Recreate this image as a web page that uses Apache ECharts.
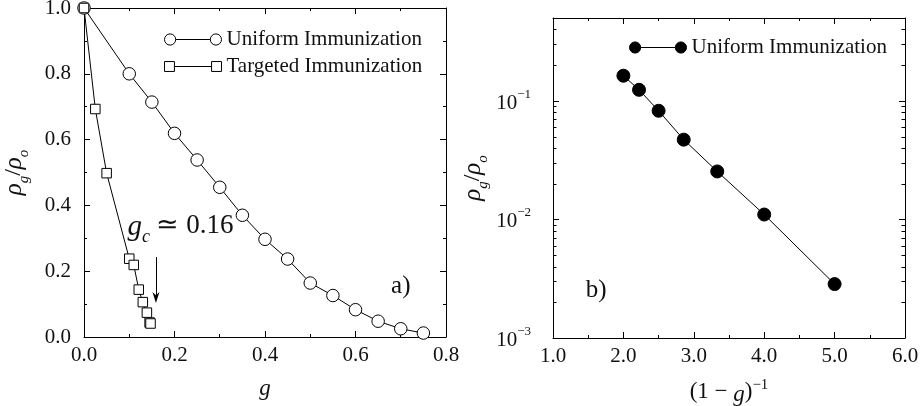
<!DOCTYPE html>
<html><head><meta charset="utf-8">
<script src="https://cdn.jsdelivr.net/npm/echarts@6/dist/echarts.min.js"></script>
<style>html,body{margin:0;padding:0;background:#fff}#c{width:924px;height:406px}</style>
</head><body><div id="c"></div>
<script>
// ---- data ----
const uniformG   = [0, 0.10, 0.15, 0.20, 0.25, 0.30, 0.35, 0.40, 0.45, 0.50, 0.55, 0.60, 0.65, 0.70, 0.75];
const uniformRho = [1.0, 0.800, 0.714, 0.619, 0.538, 0.455, 0.370, 0.297, 0.237, 0.164, 0.126, 0.083, 0.048, 0.025, 0.012];
const targetedG   = [0, 0.025, 0.050, 0.100, 0.110, 0.121, 0.130, 0.139, 0.145, 0.147];
const targetedRho = [1.0, 0.693, 0.498, 0.238, 0.219, 0.144, 0.106, 0.074, 0.044, 0.041];
const invG   = [2.0, 2.222, 2.5, 2.857, 3.333, 4.0, 5.0];
const invRho = [0.163, 0.124, 0.0825, 0.0471, 0.0254, 0.0110, 0.00285];
const gcArrow = [[0.159, 0.243], [0.159, 0.120]];
const gcLabelPos = [0.213, 0.326];
const aLabelPos = [0.70, 0.153];
const bLabelPos = [1.614, 0.00253];
const leftXRange = [0, 0.8], leftYRange = [0, 1];
const rightXRange = [1, 6], rightYRange = [0.001, 0.5];
const logMinorTicks = [0.002,0.003,0.004,0.005,0.006,0.007,0.008,0.009,
                       0.02,0.03,0.04,0.05,0.06,0.07,0.08,0.09,
                       0.2,0.3,0.4];

const FF = '"Liberation Serif", "Times New Roman", Times, serif';
const TXT = '#111';
const zip = (a, b) => a.map((v, i) => [v, b[i]]);

function linAxis(gridIndex, pos, range, interval, showLabel, extra) {
  return Object.assign({
    type: 'value', gridIndex, position: pos, min: range[0], max: range[1], interval,
    axisLine: { show: true, onZero: false, lineStyle: { color: '#000', width: 1 } },
    axisTick: { show: true, inside: true, length: 6, lineStyle: { color: '#000' } },
    minorTick: { show: true, splitNumber: 2, length: 3, lineStyle: { color: '#000' } },
    splitLine: { show: false }, minorSplitLine: { show: false },
    axisLabel: { show: showLabel, fontFamily: FF, fontSize: 21, color: TXT,
      formatter: v => v.toFixed(1) }
  }, extra || {});
}
function logAxis(pos, showLabel, extra) {
  return Object.assign({
    type: 'log', logBase: 10, gridIndex: 1, position: pos, min: rightYRange[0], max: rightYRange[1],
    axisLine: { show: true, onZero: false, lineStyle: { color: '#000', width: 1 } },
    axisTick: { show: true, inside: true, length: 6, lineStyle: { color: '#000' } },
    minorTick: { show: false }, splitLine: { show: false },
    axisLabel: { show: showLabel, fontFamily: FF, fontSize: 21, color: TXT, margin: 22,
      formatter: v => {
        const e = Math.log10(v), r = Math.round(e);
        if (Math.abs(e - r) > 1e-6) return '';
        return '{n|10}{s|' + (r < 0 ? '\u2212' : '') + Math.abs(r) + '}';
      },
      rich: {
        n: { fontFamily: FF, fontSize: 21, color: TXT, lineHeight: 26, verticalAlign: 'bottom' },
        s: { fontFamily: FF, fontSize: 13, color: TXT, lineHeight: 26, verticalAlign: 'top' }
      } }
  }, extra || {});
}

const circIcon = 'path://M0.5,6A5.5,5.5 0 1 1 11.5,6A5.5,5.5 0 1 1 0.5,6ZM11.5,6L45.5,6M45.5,6A5.5,5.5 0 1 1 56.5,6A5.5,5.5 0 1 1 45.5,6Z';
const sqIcon = 'path://M0.5,0.5H10V10H0.5ZM10,5.25H45.5M45.5,0.5H55V10H45.5Z';

const textLabel = (txt, size, rich) => ({
  show: true, position: 'inside', formatter: txt, fontFamily: FF, fontSize: size, color: TXT, rich: rich || {}
});
const rhoName = '{i|\u03c1}{s|g}{r|/}{i|\u03c1}{s|o}';
const rhoStyle = { fontFamily: FF, fontSize: 22, color: TXT,
  rich: { i: { fontFamily: FF, fontSize: 25, fontStyle: 'italic', color: TXT, lineHeight: 30, verticalAlign: 'top' },
          r: { fontFamily: FF, fontSize: 24, color: TXT, lineHeight: 30, verticalAlign: 'top' },
          s: { fontFamily: FF, fontSize: 15, fontStyle: 'italic', color: TXT, lineHeight: 30, verticalAlign: 'bottom' } } };

const option = {
  backgroundColor: '#fff',
  animation: false,
  grid: [
    { left: 84, top: 8, width: 362, height: 329, outerBoundsMode: 'none', containLabel: false },
    { left: 553, top: 18, width: 352, height: 320, outerBoundsMode: 'none', containLabel: false }
  ],
  xAxis: [
    linAxis(0, 'bottom', leftXRange, 0.2, true, {
      name: 'g', nameLocation: 'middle', nameGap: 40,
      nameTextStyle: { fontFamily: FF, fontSize: 23, fontStyle: 'italic', color: TXT },
      axisLabel: { show: true, fontFamily: FF, fontSize: 21, color: TXT, margin: 8, formatter: v => v.toFixed(1) } }),
    linAxis(0, 'top', leftXRange, 0.2, false),
    linAxis(1, 'bottom', rightXRange, 1, true, {
      name: '(1 \u2212 {i|g}){s|\u22121}', nameLocation: 'middle', nameGap: 40,
      nameTextStyle: { fontFamily: FF, fontSize: 23, color: TXT,
        rich: { i: { fontFamily: FF, fontSize: 23, fontStyle: 'italic', color: TXT, lineHeight: 28, verticalAlign: 'bottom' },
                s: { fontFamily: FF, fontSize: 15, color: TXT, lineHeight: 28, verticalAlign: 'top' } } },
      axisLabel: { show: true, fontFamily: FF, fontSize: 21, color: TXT, margin: 8, formatter: v => v.toFixed(1) } }),
    linAxis(1, 'top', rightXRange, 1, false)
  ],
  yAxis: [
    linAxis(0, 'left', leftYRange, 0.2, true, {
      name: rhoName, nameLocation: 'middle', nameGap: 52, nameTextStyle: rhoStyle,
      axisLabel: { show: true, fontFamily: FF, fontSize: 21, color: TXT, margin: 13, formatter: v => v.toFixed(1) } }),
    linAxis(0, 'right', leftYRange, 0.2, false),
    logAxis('left', true, { name: rhoName, nameLocation: 'middle', nameGap: 62, nameTextStyle: rhoStyle }),
    logAxis('right', false)
  ],
  legend: [
    { orient: 'vertical', left: 159, top: 24, itemGap: 6, itemWidth: 57, itemHeight: 12,
      textStyle: { fontFamily: FF, fontSize: 21, color: TXT },
      data: [
        { name: 'Uniform Immunization', icon: circIcon, itemStyle: { color: '#fff', borderColor: '#000', borderWidth: 1 } },
        { name: 'Targeted Immunization', icon: sqIcon, itemStyle: { color: '#fff', borderColor: '#000', borderWidth: 1 } }
      ] },
    { orient: 'vertical', left: 624, top: 32, itemWidth: 57, itemHeight: 13,
      textStyle: { fontFamily: FF, fontSize: 21, color: TXT },
      data: [
        { name: 'Uniform Immunization', icon: circIcon, itemStyle: { color: '#000', borderColor: '#000', borderWidth: 1 } }
      ] }
  ],
  series: [
    { name: 'Uniform Immunization', type: 'line', xAxisIndex: 0, yAxisIndex: 0,
      data: zip(uniformG, uniformRho), symbol: 'circle', symbolSize: 12.5,
      itemStyle: { color: '#fff', borderColor: '#000', borderWidth: 1 },
      lineStyle: { color: '#000', width: 1 },
      markPoint: { silent: true, symbol: 'circle', symbolSize: 0,
        data: [{ coord: aLabelPos, label: textLabel('a)', 25) }] } },
    { name: 'Targeted Immunization', type: 'line', xAxisIndex: 0, yAxisIndex: 0,
      data: zip(targetedG, targetedRho), symbol: 'rect', symbolSize: 9.5,
      itemStyle: { color: '#fff', borderColor: '#000', borderWidth: 1 },
      lineStyle: { color: '#000', width: 1 },
      markLine: { silent: true, symbol: ['none', 'path://M5,0L10,10L5,7L0,10Z'], symbolSize: [7, 11],
        label: { show: false }, lineStyle: { type: 'solid', color: '#000', width: 1 },
        data: [[{ coord: gcArrow[0] }, { coord: gcArrow[1] }]] },
      markPoint: { silent: true, symbol: 'circle', symbolSize: 0,
        data: [{ coord: gcLabelPos, label: textLabel('{i|g}{s|c} {r|\u2243 0.16}', 26, {
          i: { fontFamily: FF, fontSize: 29, fontStyle: 'italic', color: TXT, lineHeight: 34, verticalAlign: 'top' },
          r: { fontFamily: FF, fontSize: 27, color: TXT, lineHeight: 34, verticalAlign: 'top' },
          s: { fontFamily: FF, fontSize: 18, fontStyle: 'italic', color: TXT, lineHeight: 34, verticalAlign: 'bottom' } }) }] } },
    { name: 'Uniform Immunization', type: 'line', xAxisIndex: 2, yAxisIndex: 2,
      data: zip(invG, invRho), symbol: 'circle', symbolSize: 13,
      itemStyle: { color: '#000', borderColor: '#000', borderWidth: 1 },
      lineStyle: { color: '#000', width: 1 },
      markPoint: { silent: true, symbol: 'circle', symbolSize: 0,
        data: [{ coord: bLabelPos, label: textLabel('b)', 25) }] } },
    { type: 'custom', xAxisIndex: 2, yAxisIndex: 2, silent: true, clip: false,
      data: logMinorTicks.map(v => [rightXRange[0], v]),
      renderItem: (params, api) => {
        const y = api.value(1);
        const pL = api.coord([rightXRange[0], y]);
        const pR = api.coord([rightXRange[1], y]);
        const yy = Math.round(pL[1]) + 0.5;
        return { type: 'group', children: [
          { type: 'line', shape: { x1: pL[0], y1: yy, x2: pL[0] + 3.5, y2: yy }, style: { stroke: '#000', lineWidth: 1 } },
          { type: 'line', shape: { x1: pR[0], y1: yy, x2: pR[0] - 3.5, y2: yy }, style: { stroke: '#000', lineWidth: 1 } }
        ] };
      } }
  ]
};
const chart = echarts.init(document.getElementById('c'), null, { renderer: 'canvas' });
chart.setOption(option);
</script></body></html>
